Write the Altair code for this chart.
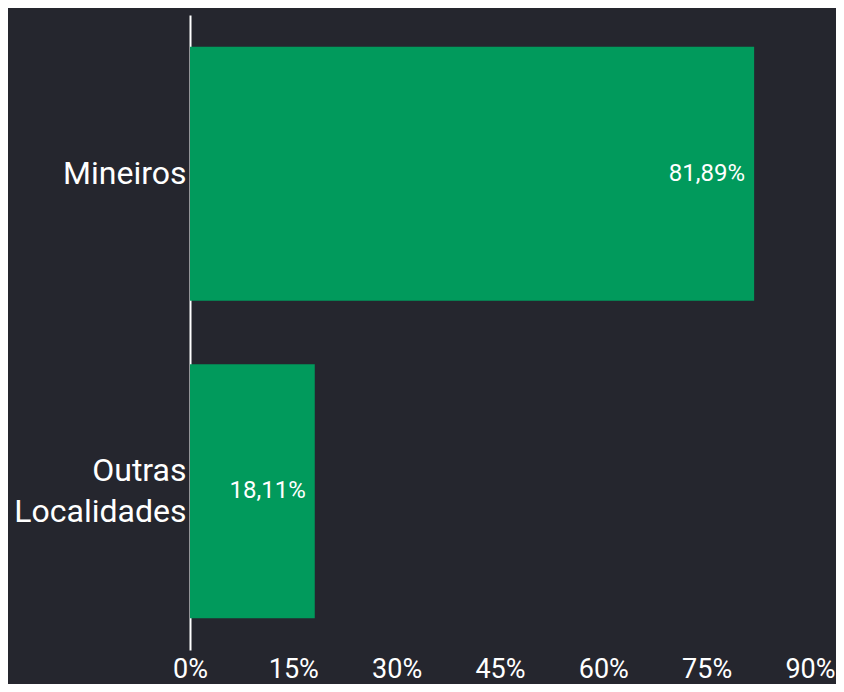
import altair as alt
import pandas as pd

categories = ["Mineiros", "Outras Localidades"]
values = [81.89, 18.11]
labels = ["81,89%", "18,11%"]
tick_values = [0, 15, 30, 45, 60, 75, 90]

df = pd.DataFrame({"cat": categories, "val": values, "label": labels})

base = alt.Chart(df).encode(
    y=alt.Y(
        "cat:N",
        sort=categories,
        title=None,
        scale=alt.Scale(paddingInner=0.2, paddingOuter=0.1),
        axis=alt.Axis(
            labelExpr="datum.value == 'Outras Localidades' ? ['Outras', 'Localidades'] : datum.value",
            labelOffset={"condition": {"test": "datum.value == 'Outras Localidades'", "value": -20}, "value": 0},
            domain=True, domainColor="#ffffff", domainWidth=2,
            ticks=False, labelPadding=4, labelFontSize=32, labelColor="#ffffff",
            labelFont="Roboto", labelLineHeight=41,
        ),
    ),
)

bars = base.mark_bar(color="#019a5c").encode(
    x=alt.X(
        "val:Q",
        title=None,
        scale=alt.Scale(domain=[0, 90], nice=False),
        axis=alt.Axis(
            values=tick_values, labelExpr="datum.value + '%'",
            domain=False, ticks=False, grid=False, labelFlush=False,
            labelFontSize=27, labelColor="#ffffff", labelFont="Roboto",
            labelPadding=6,
        ),
    )
)

text = base.mark_text(align="right", dx=-9, color="#ffffff", fontSize=24, font="Roboto").encode(
    x="val:Q", text="label:N"
)

chart = (
    (bars + text)
    .properties(
        width=620, height=635,
        padding={"left": 182, "top": 7, "right": 26, "bottom": 34},
        autosize="none", background="#25262e",
    )
    .configure_view(stroke=None)
)

chart.save("out.html", embed_options={"renderer": "svg", "actions": False})
